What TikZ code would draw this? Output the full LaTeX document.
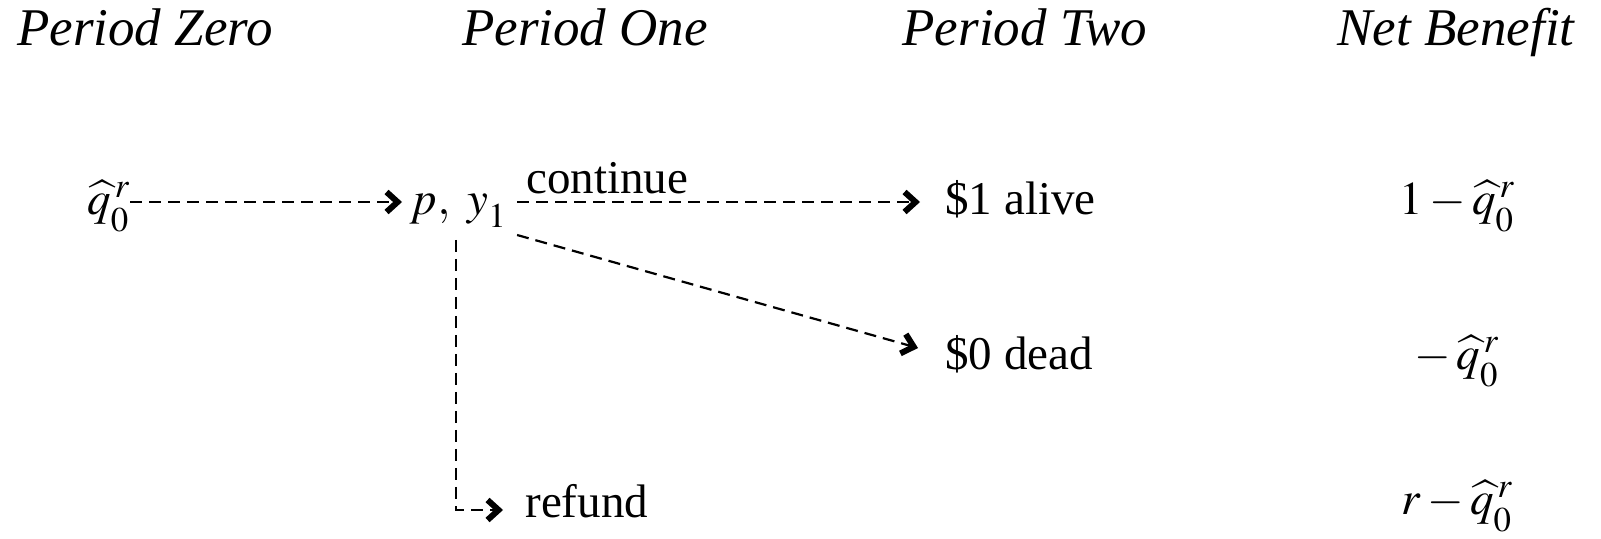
\documentclass[tikz,border=0pt]{standalone}
\usepackage{mathptmx}
\usepackage{fontspec}
\setmainfont{Liberation Serif}
\usetikzlibrary{arrows.meta,positioning,calc}

\newcommand{\lowsub}[1]{\lower2.5pt\hbox{$\scriptstyle #1$}}
\newcommand{\qhr}{\widehat{q}^{\,r}_{\lowsub{0}}}

\tikzset{
  txt/.style={inner sep=0pt, anchor=base west, font=\fontsize{23.5}{28}\selectfont},
  hdr/.style={inner sep=0pt, anchor=base, font=\fontsize{26.5}{32}\selectfont\itshape},
  nb/.style={inner sep=0pt, anchor=base, font=\fontsize{23.5}{28}\selectfont},
  flow/.style={line width=1.1pt, dash pattern=on 6pt off 3.5pt,
    -{Straight Barb[length=5.5pt,width=10pt,line width=3pt]}}
}

\begin{document}
\begin{tikzpicture}[x=0.5pt,y=-0.5pt]
            \useasboundingbox (0,0) rectangle (1601,539);
            % column headings
            \node[hdr] (hdzero) at (145,46) {Period Zero};
            \node[hdr] (hdone) at (585,46) {Period One};
            \node[hdr] (hdtwo) at (1025,46) {Period Two};
            \node[hdr] (hdnet) at (1456,46) {Net Benefit};
            % tree
            \node[txt] (qhat) at (87,215) {$\qhr$};
            \node[txt] (pyone) at (410,215) {$p,\ y_{\lowsub{1}}$};
            \node[txt] (alive) at (945,215) {\$1 alive};
            \node[txt] (dead) at (945,370) {\$0 dead};
            \node[txt] (refund) at (525,517) {refund};
            \node[txt] (cont) at (526,194) {continue};
            % net benefit
            \node[nb] (nbalive) at (1457,215) {$1-\qhr$};
            \node[nb] (nbdead) at (1457,370) {$-\,\qhr$};
            \node[nb] (nbrefund) at (1457,515) {$r-\qhr$};
            % arrows
            \draw[flow] ([yshift=6.5pt]qhat.base east) -- ([xshift=-4pt,yshift=6.5pt]pyone.base west);
            \draw[flow] ([xshift=5pt,yshift=6.5pt]pyone.base east) -- ([xshift=-12.5pt,yshift=6.5pt]alive.base west);
            \draw[flow] ([xshift=5pt,yshift=-10pt]pyone.base east) -- ([xshift=-13.5pt,yshift=11pt]dead.base west);
            \draw[flow] ([xshift=23pt,yshift=-12.5pt]pyone.base west) |- ([xshift=-11pt,yshift=3.5pt]refund.base west);
\end{tikzpicture}
\end{document}
